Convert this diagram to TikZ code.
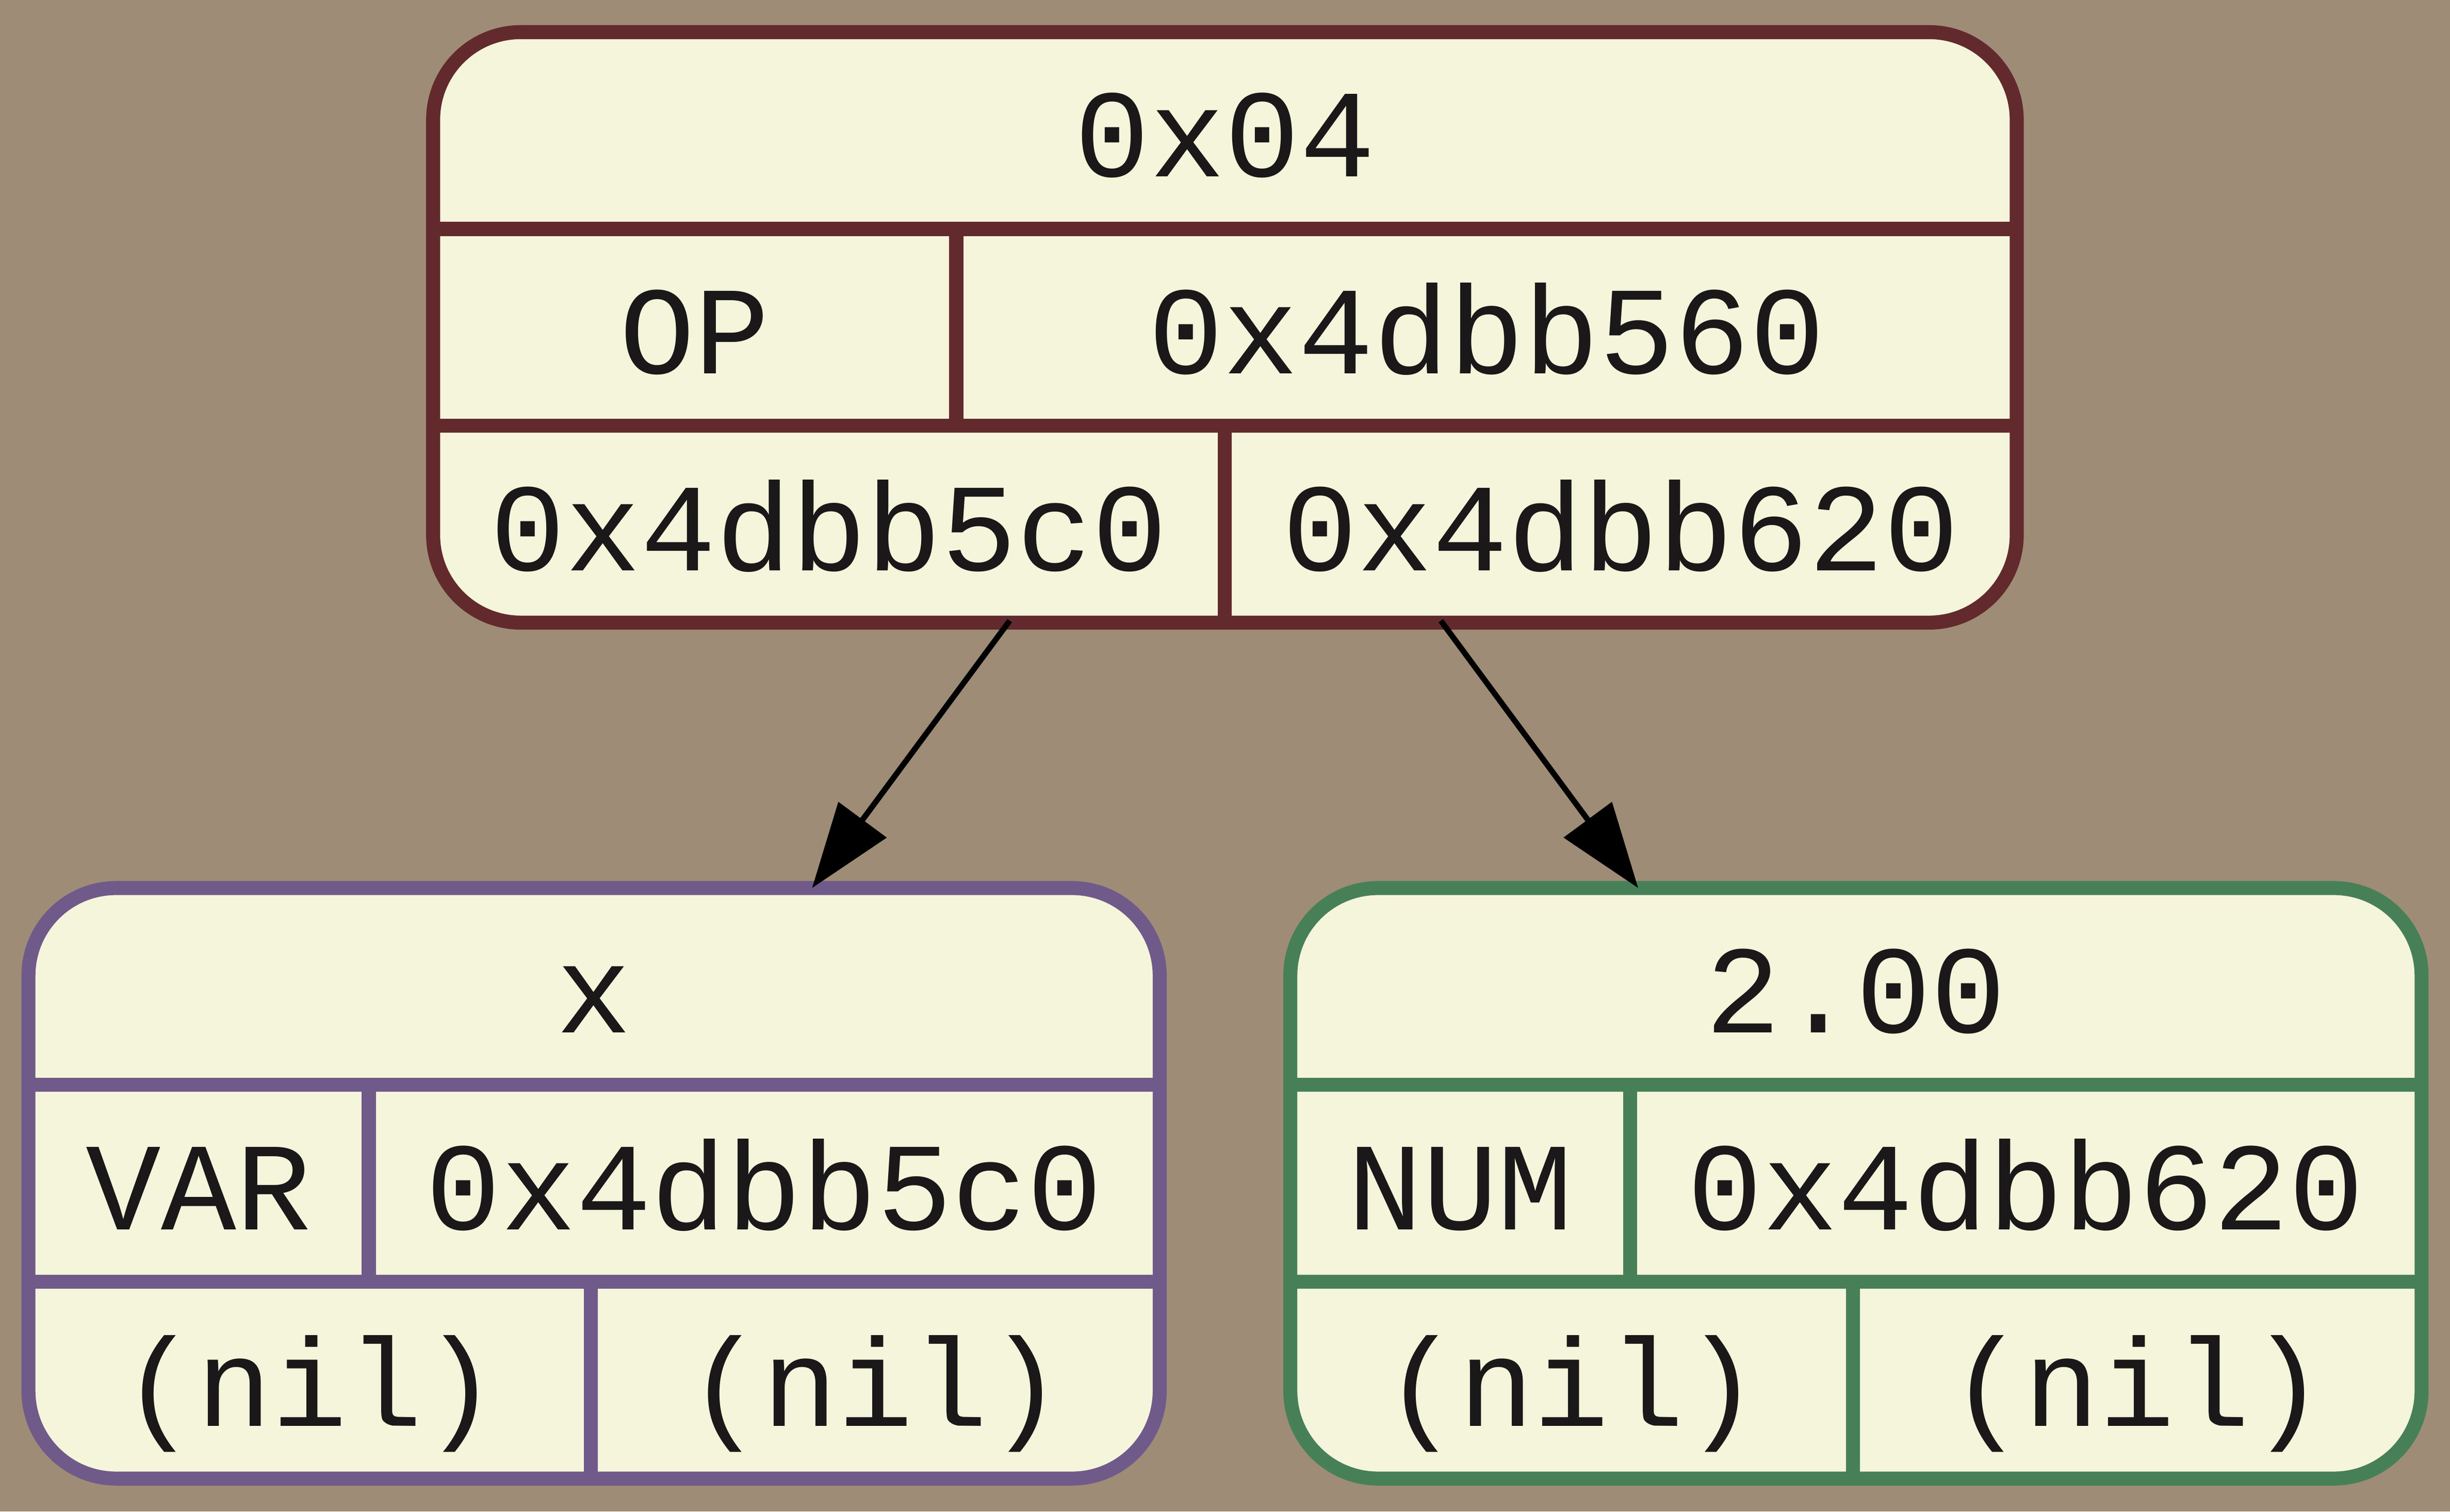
\documentclass[tikz,border=0pt]{standalone}
\usepackage{fontspec}
\usepackage{tikz}
\usetikzlibrary{calc}
\usetikzlibrary{arrows.meta}
\newfontfamily\recfont{Liberation Mono}
\definecolor{bgbrown}{HTML}{9E8C77}
\definecolor{cellfill}{HTML}{F5F5DC}
\definecolor{opred}{HTML}{632A2D}
\definecolor{varpurple}{HTML}{705A8A}
\definecolor{numgreen}{HTML}{478057}
\definecolor{ink}{HTML}{1A1818}
\newcommand{\px}{0.1783pt}
\tikzset{
	rec/.style={draw, fill=cellfill, line width=1.6pt, rounded corners=10pt, inner sep=0pt, outer sep=0pt, minimum height=378*\px},
	recline/.style={line width=1.6pt},
	field/.style={anchor=base, inner sep=0pt, text=ink, font=\recfont\fontsize{14.3pt}{14.3pt}\selectfont},
	edge/.style={line width=0.65pt, -{Triangle[length=9.7pt, width=6.7pt]}}
}
\newcommand{\record}[7] % name, centre x, centre y, width, colour, row 2 split, row 3 split (from left edge)
{
	% rounded outline
	\node[rec, draw=#5, minimum width=#4*\px] (#1) at (#2,#3) {};
	% row lines
	\draw[recline, #5] ($(#1.north west)+(0,126)$) -- ($(#1.north east)+(0,126)$);
	\draw[recline, #5] ($(#1.north west)+(0,252)$) -- ($(#1.north east)+(0,252)$);
	% field lines
	\draw[recline, #5] ($(#1.north west)+(#6,126)$) -- ($(#1.north west)+(#6,252)$);
	\draw[recline, #5] ($(#1.north west)+(#7,252)$) -- ($(#1.south west)+(#7,0)$);
}

\begin{document}
\begin{tikzpicture}[x=\px, y=-\px]
	% background, units are pixels of a 1568 x 967.6 sheet
	\fill[bgbrown] (0,0) rectangle (1568,967.6);
	\useasboundingbox (0,0) rectangle (1568,967.6);
	% operator node
	\record{op}{783.95}{209.55}{1013.5}{opred}{334.8}{506.6};
	\node[field] (op-val) at (783.95,113.2) {0x04};
	\node[field] (op-type) at (444.6,239.2) {OP};
	\node[field] (op-addr) at (951.4,239.2) {0x4dbb560};
	\node[field] (op-left) at (530.5,365.2) {0x4dbb5c0};
	\node[field] (op-right) at (1037.25,365.2) {0x4dbb620};
	% variable node
	\record{var}{380.2}{757.45}{724}{varpurple}{217.8}{360};
	\node[field] (var-val) at (380.2,661) {x};
	\node[field] (var-type) at (127.1,787) {VAR};
	\node[field] (var-addr) at (489.1,787) {0x4dbb5c0};
	\node[field] (var-left) at (198.2,913) {(nil)};
	\node[field] (var-right) at (560.2,913) {(nil)};
	% number node
	\record{num}{1187.8}{757.45}{724}{numgreen}{217.5}{360};
	\node[field] (num-val) at (1187.8,661) {2.00};
	\node[field] (num-type) at (934.5,787) {NUM};
	\node[field] (num-addr) at (1296.5,787) {0x4dbb620};
	\node[field] (num-left) at (1005.8,913) {(nil)};
	\node[field] (num-right) at (1367.8,913) {(nil)};
	% edges
	\coordinate (op-lport) at (646.2,397.3);
	\coordinate (op-rport) at (922.1,397.3);
	\draw[edge] (op-lport) -- (var);
	\draw[edge] (op-rport) -- (num);
\end{tikzpicture}
\end{document}
